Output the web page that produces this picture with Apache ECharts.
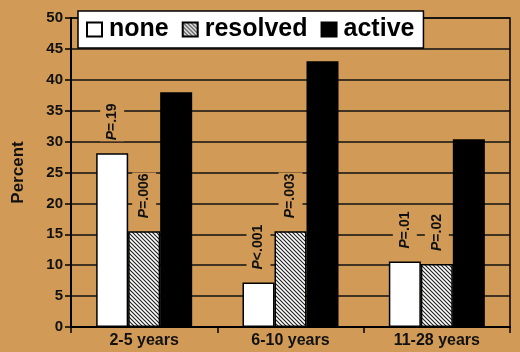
<!DOCTYPE html>
<html>
<head>
<meta charset="utf-8">
<script src="https://cdn.jsdelivr.net/npm/echarts@6/dist/echarts.min.js"></script>
<style>
    html, body { margin: 0; padding: 0; background: #d19a56; }
    #chart { width: 520px; height: 352px; }
</style>
</head>
<body>
<div id="chart"></div>
<script>
const categories = ['2-5 years', '6-10 years', '11-28 years'];
const noneValues = [28.1, 7.2, 10.6];
const resolvedValues = [15.5, 15.5, 10.2];
const activeValues = [38.0, 43.0, 30.4];
const noneP = ['P=.19', 'P<.001', 'P=.01'];
const resolvedP = ['P=.006', 'P=.003', 'P=.02'];
const yTicks = [0, 5, 10, 15, 20, 25, 30, 35, 40, 45, 50];

const FONT = '"Liberation Sans", Arial, sans-serif';
const BG = '#d19a56';
const INK = '#111';

function makeHatch() {
    const c = document.createElement('canvas');
    c.width = 4;
    c.height = 4;
    const ctx = c.getContext('2d');
    ctx.fillStyle = '#fff';
    ctx.fillRect(0, 0, 4, 4);
    ctx.strokeStyle = '#222';
    ctx.lineWidth = 1.2;
    ctx.beginPath();
    ctx.moveTo(-1, -1); ctx.lineTo(5, 5);
    ctx.moveTo(-1, 3); ctx.lineTo(1, 5);
    ctx.moveTo(3, -1); ctx.lineTo(5, 1);
    ctx.stroke();
    return c;
}

function pLabel(texts) {
    return {
        show: true,
        position: 'top',
        distance: 12,
        rotate: 90,
        align: 'left',
        verticalAlign: 'middle',
        backgroundColor: BG,
        padding: [5, 1],
        formatter: (p) => '{i|P}{n|' + texts[p.dataIndex].slice(1) + '}',
        rich: {
            i: { fontFamily: FONT, fontSize: 14, fontWeight: 'bold', fontStyle: 'italic', color: INK },
            n: { fontFamily: FONT, fontSize: 14, fontWeight: 'bold', color: INK }
        }
    };
}

const chart = echarts.init(document.getElementById('chart'));
const hatch = { image: makeHatch(), repeat: 'repeat' };
const barStyle = (color) => ({ color: color, borderColor: '#000', borderWidth: 1.5 });

chart.setOption({
    animation: false,
    backgroundColor: BG,
    textStyle: { fontFamily: FONT },
    grid: {
        left: 71, right: 10, top: 18, bottom: 25,
        show: true, borderColor: '#000', borderWidth: 1.5, backgroundColor: 'transparent'
    },
    legend: {
        left: 78,
        top: 11,
        data: ['none', 'resolved', 'active'],
        icon: 'rect',
        itemWidth: 15,
        itemHeight: 14,
        itemGap: 13,
        padding: [6, 9, 6, 8],
        backgroundColor: '#fff',
        borderColor: '#000',
        borderWidth: 1.5,
        borderRadius: 0,
        textStyle: { fontFamily: FONT, fontSize: 25, fontWeight: 'bold', color: '#000', padding: [0, 0, 0, 2] }
    },
    xAxis: {
        type: 'category',
        data: categories,
        axisLine: { lineStyle: { color: '#000', width: 2 } },
        axisTick: { show: true, length: 6, lineStyle: { color: '#000', width: 1.5 } },
        axisLabel: { fontFamily: FONT, fontSize: 16, fontWeight: 'bold', color: INK, margin: 6 }
    },
    yAxis: {
        type: 'value',
        min: yTicks[0],
        max: yTicks[yTicks.length - 1],
        interval: yTicks[1] - yTicks[0],
        name: 'Percent',
        nameLocation: 'middle',
        nameGap: 44,
        nameTextStyle: { fontFamily: FONT, fontSize: 17, fontWeight: 'bold', color: INK },
        axisLine: { show: true, lineStyle: { color: '#000', width: 2 } },
        axisTick: { show: true, length: 6, lineStyle: { color: '#000', width: 1.5 } },
        axisLabel: { fontFamily: FONT, fontSize: 15, fontWeight: 'bold', color: INK, margin: 8 },
        splitLine: { lineStyle: { color: '#111', width: 1.5 } }
    },
    series: [
        {
            name: 'none', type: 'bar', data: noneValues,
            barWidth: 32, barGap: '0%',
            itemStyle: barStyle('#fff'),
            label: pLabel(noneP)
        },
        {
            name: 'resolved', type: 'bar', data: resolvedValues,
            barWidth: 32, barGap: '0%',
            itemStyle: barStyle(hatch),
            label: pLabel(resolvedP)
        },
        {
            name: 'active', type: 'bar', data: activeValues,
            barWidth: 32, barGap: '0%',
            itemStyle: barStyle('#000')
        }
    ]
});
</script>
</body>
</html>
